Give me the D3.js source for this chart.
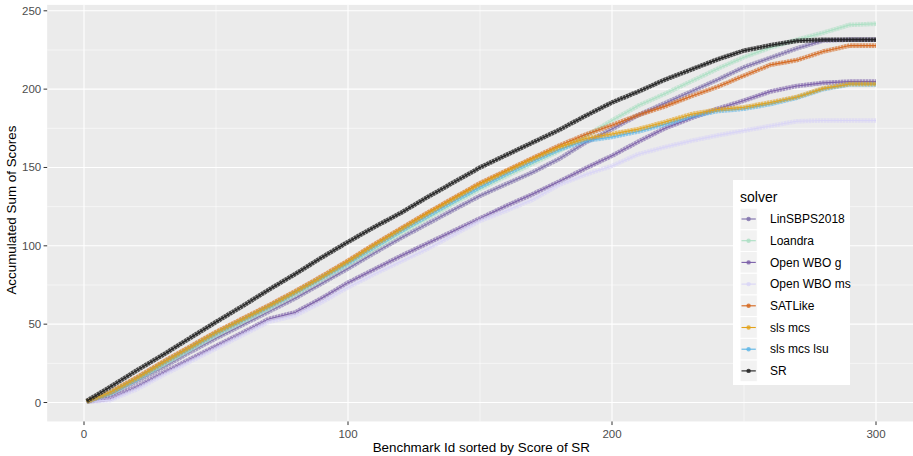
<!DOCTYPE html>
<html>
<head>
<meta charset="utf-8">
<script src="https://cdn.jsdelivr.net/npm/d3@7"></script>
<style>
  html, body { margin: 0; padding: 0; background: #fff; }
  svg { display: block; font-family: "Liberation Sans", Arial, sans-serif; }
</style>
</head>
<body>
<svg id="chart" width="913" height="456"></svg>
<script>
// ---- data ----
const xs = [1, 10, 20, 30, 40, 50, 60, 70, 80, 90, 100, 110, 120, 130, 140, 150, 160, 170, 180, 190, 200, 210, 220, 230, 240, 250, 260, 270, 280, 290, 300];

const solvers = ["LinSBPS2018", "Loandra", "Open WBO g", "Open WBO ms", "SATLike", "sls mcs", "sls mcs lsu", "SR"];
const colors = ["#7d6eaa", "#abdfc3", "#7a5ea8", "#d8d4f6", "#d4661c", "#e3a21a", "#5ab4e6", "#1c1c1c"];

const LinSBPS2018 = [0.5, 5, 13.5, 22.5, 32, 41, 49.5, 58, 66.5, 76, 85.5, 95.5, 105, 114, 123, 131.9, 139.5, 147, 155.5, 166, 174.5, 183.5, 191, 198.5, 206, 214, 220, 226, 231, 231.6, 231.6];
const Loandra     = [0.5, 5.5, 14.5, 24, 33.5, 43, 51.5, 60, 69, 78.5, 88, 98, 108, 117.5, 127, 136.2, 144.5, 152.5, 160.5, 170, 180, 189.5, 197, 205, 213, 220.4, 226.5, 231.5, 236, 241, 241.7];
const OpenWBOg    = [0.5, 2.5, 10, 19, 27.5, 36, 44.5, 53.3, 57.5, 66.5, 76.5, 85, 93.5, 101.5, 109.5, 117.5, 125.5, 133, 141, 149.5, 157.5, 166.5, 175, 181.5, 187.5, 192.7, 198.5, 202, 204, 204.8, 204.8];
const OpenWBOms   = [0.5, 1.5, 8.5, 17.5, 26, 34.5, 43, 51.5, 55.5, 64, 73.5, 82, 90, 98, 107, 115.9, 122.5, 129.5, 139, 145.5, 151, 158.5, 163, 167, 170.5, 173.5, 176.5, 179.5, 180, 180, 180];
const SATLike     = [0.5, 6.5, 16, 26, 35.5, 45, 53.5, 62, 71, 80.5, 90.5, 101, 111, 121, 130.5, 140, 148, 156, 164, 171, 177, 183.5, 189, 195.5, 201.5, 208.6, 215.5, 218.5, 224, 227.8, 227.8];
const slsMcs      = [0.5, 6.5, 15.5, 25.5, 35, 44.6, 53, 61.5, 70.5, 80, 90, 100.5, 110.5, 120.5, 130, 139.4, 147.5, 155.5, 163, 168.5, 171.4, 174.5, 179, 184, 187, 188.4, 191.5, 195, 200.5, 203.3, 203.3];
const slsMcsLsu   = [0.5, 6, 15, 25, 34.5, 44, 52.5, 61, 70, 79.5, 89, 99.5, 109.5, 119, 128.5, 137.5, 146, 154, 161.5, 167, 169.5, 173, 177.5, 182.5, 186, 187.5, 190.5, 194.5, 200, 203, 203];
const SR          = [1, 10, 20.5, 30.5, 41, 51.4, 61.5, 72, 82, 92.5, 102.5, 112, 121, 131, 140.5, 150, 158, 166, 174, 183, 191.5, 198.5, 206, 212.5, 219, 224.6, 228, 230.8, 231.5, 231.5, 231.5];

const seriesValues = [LinSBPS2018, Loandra, OpenWBOg, OpenWBOms, SATLike, slsMcs, slsMcsLsu, SR];

const xTicks = [0, 100, 200, 300];
const yTicks = [0, 50, 100, 150, 200, 250];
const xMinor = [50, 150, 250];
const yMinor = [25, 75, 125, 175, 225];

const xTitle = "Benchmark Id sorted by Score of SR";
const yTitle = "Accumulated Sum of Scores";
const legendTitle = "solver";

// ---- scales ----
const svg = d3.select("#chart");
const x = d3.scaleLinear().domain([0, 300]).range([84, 876]);
const y = d3.scaleLinear().domain([0, 250]).range([402.5, 10.8]);

const xMin = d3.min(xs), xMax = d3.max(xs);
const allVals = seriesValues.flat();
const yMin = 0, yMax = d3.max(allVals);
const xPad = (xMax - xMin) * 0.05, yPad = (yMax - yMin) * 0.05;
const pL = x(xMin - xPad), pR = x(xMax + xPad);
const pT = y(yMax + yPad), pB = y(yMin - yPad);

// panel
svg.append("rect").attr("x", pL).attr("y", pT).attr("width", pR - pL).attr("height", pB - pT).attr("fill", "#EBEBEB");

const grid = svg.append("g");
grid.selectAll(".ymin").data(yMinor).join("line")
  .attr("x1", pL).attr("x2", pR).attr("y1", d => y(d)).attr("y2", d => y(d))
  .attr("stroke", "#fff").attr("stroke-width", 0.55);
grid.selectAll(".xmin").data(xMinor).join("line")
  .attr("y1", pT).attr("y2", pB).attr("x1", d => x(d)).attr("x2", d => x(d))
  .attr("stroke", "#fff").attr("stroke-width", 0.55);
grid.selectAll(".ymaj").data(yTicks).join("line")
  .attr("x1", pL).attr("x2", pR).attr("y1", d => y(d)).attr("y2", d => y(d))
  .attr("stroke", "#fff").attr("stroke-width", 1.1);
grid.selectAll(".xmaj").data(xTicks).join("line")
  .attr("y1", pT).attr("y2", pB).attr("x1", d => x(d)).attr("x2", d => x(d))
  .attr("stroke", "#fff").attr("stroke-width", 1.1);

// series
const line = d3.line().x((d, i) => x(xs[i])).y(d => y(d));
const order = [0, 1, 2, 3, 4, 6, 5, 7];
const gS = svg.append("g");
order.forEach(k => {
  const vals = seriesValues[k];
  gS.append("path").attr("d", line(vals)).attr("fill", "none")
    .attr("stroke", colors[k]).attr("stroke-width", 4.6).attr("stroke-opacity", k === 7 ? 0.75 : 0.6)
    .attr("stroke-linejoin", "round").attr("stroke-dasharray", "2.6 0.5");
  gS.append("path").attr("d", line(vals)).attr("fill", "none")
    .attr("stroke", colors[k]).attr("stroke-width", 1.1).attr("stroke-opacity", 0.95)
    .attr("stroke-linejoin", "round");
});

// axes
const gx = svg.append("g");
gx.selectAll("line").data(xTicks).join("line")
  .attr("x1", d => x(d)).attr("x2", d => x(d)).attr("y1", pB).attr("y2", pB + 3.6)
  .attr("stroke", "#333").attr("stroke-width", 1);
gx.selectAll("text").data(xTicks).join("text")
  .attr("x", d => x(d)).attr("y", pB + 16.5).attr("text-anchor", "middle")
  .attr("font-size", 11.5).attr("fill", "#4D4D4D").text(d => d);

const gy = svg.append("g");
gy.selectAll("line").data(yTicks).join("line")
  .attr("x1", pL - 3.6).attr("x2", pL).attr("y1", d => y(d)).attr("y2", d => y(d))
  .attr("stroke", "#333").attr("stroke-width", 1);
gy.selectAll("text").data(yTicks).join("text")
  .attr("x", pL - 6).attr("y", d => y(d) + 4).attr("text-anchor", "end")
  .attr("font-size", 11.5).attr("fill", "#4D4D4D").text(d => d);

svg.append("text").attr("x", (pL + pR) / 2).attr("y", 452).attr("text-anchor", "middle")
  .attr("font-size", 13.4).attr("fill", "#000").text(xTitle);
svg.append("text").attr("transform", `translate(16,${(pT + pB) / 2 - 3}) rotate(-90)`)
  .attr("text-anchor", "middle").attr("font-size", 13.4).attr("fill", "#000").text(yTitle);

// legend
const lg = svg.append("g");
lg.append("rect").attr("x", 733).attr("y", 180).attr("width", 117).attr("height", 205).attr("fill", "#fff");
lg.append("text").attr("x", 740).attr("y", 202).attr("font-size", 14).attr("fill", "#000").text(legendTitle);
const rowH = 21.7, row0 = 219;
solvers.forEach((s, i) => {
  const cy = row0 + i * rowH;
  lg.append("rect").attr("x", 740).attr("y", cy - rowH / 2).attr("width", 17.3).attr("height", rowH)
    .attr("fill", "#F2F2F2").attr("stroke", "#fff").attr("stroke-width", 1);
  lg.append("line").attr("x1", 741.5).attr("x2", 755.8).attr("y1", cy).attr("y2", cy)
    .attr("stroke", colors[i]).attr("stroke-width", 1.1);
  lg.append("circle").attr("cx", 748.6).attr("cy", cy).attr("r", 2.2)
    .attr("fill", colors[i]).attr("fill-opacity", 0.8);
  lg.append("text").attr("x", 770).attr("y", cy + 4.2).attr("font-size", 12).attr("fill", "#000").text(s);
});
</script>
</body>
</html>
